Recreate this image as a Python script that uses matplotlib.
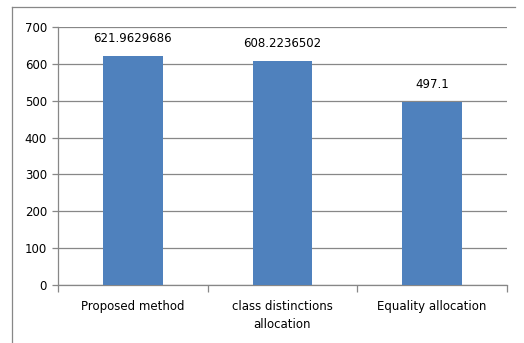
import matplotlib
matplotlib.use('Agg')
import matplotlib.pyplot as plt
from matplotlib.lines import Line2D
import numpy as np

categories = ['Proposed method', 'class distinctions\nallocation', 'Equality allocation']
values = [621.9629686, 608.2236502, 497.1]
value_labels = ['621.9629686', '608.2236502', '497.1']
y_ticks = [0, 100, 200, 300, 400, 500, 600, 700]

W, H = 524, 343
fig = plt.figure(figsize=(W / 100, H / 100), dpi=100)
plt.rcParams['font.family'] = ['DejaVu Sans']

# chart frame (only top and left edges are visible in the crop)
fig.add_artist(Line2D([12 / W, 12 / W], [1 - 7 / H, 0], color='#878787', lw=0.9))
fig.add_artist(Line2D([12 / W, 515 / W], [1 - 7 / H, 1 - 7 / H], color='#878787', lw=0.9))

ax = fig.add_axes([58 / W, 1 - 285 / H, (507 - 58) / W, (285 - 27) / H])
x = np.arange(len(categories))
bars = ax.bar(x, values, width=0.4, color='#4F81BD', zorder=3)

ax.set_xlim(-0.5, len(categories) - 0.5)
ax.set_ylim(0, 700)
ax.set_yticks(y_ticks)
ax.tick_params(axis='y', labelsize=8.5, colors='#878787', labelcolor='black', length=4, width=0.9, pad=4)
ax.yaxis.grid(True, color='#878787', lw=0.9, zorder=0)

# category boundaries carry the ticks, labels sit in the middle
ax.set_xticks(np.arange(len(categories) + 1) - 0.5)
ax.set_xticklabels([])
ax.tick_params(axis='x', colors='#878787', length=5, width=0.9)
for i, c in enumerate(categories):
    ax.text(i, -0.058, c, transform=ax.get_xaxis_transform(), ha='center', va='top',
            fontsize=8.5, linespacing=1.55)

for s in ['top', 'right']:
    ax.spines[s].set_visible(False)
for s in ['left', 'bottom']:
    ax.spines[s].set_color('#878787')
    ax.spines[s].set_linewidth(0.9)

for b, lab in zip(bars, value_labels):
    ax.annotate(lab, (b.get_x() + b.get_width() / 2, b.get_height()), xytext=(0, 7.5),
                textcoords='offset points', ha='center', va='bottom', fontsize=8.5)

fig.savefig('out.png', dpi=100)
